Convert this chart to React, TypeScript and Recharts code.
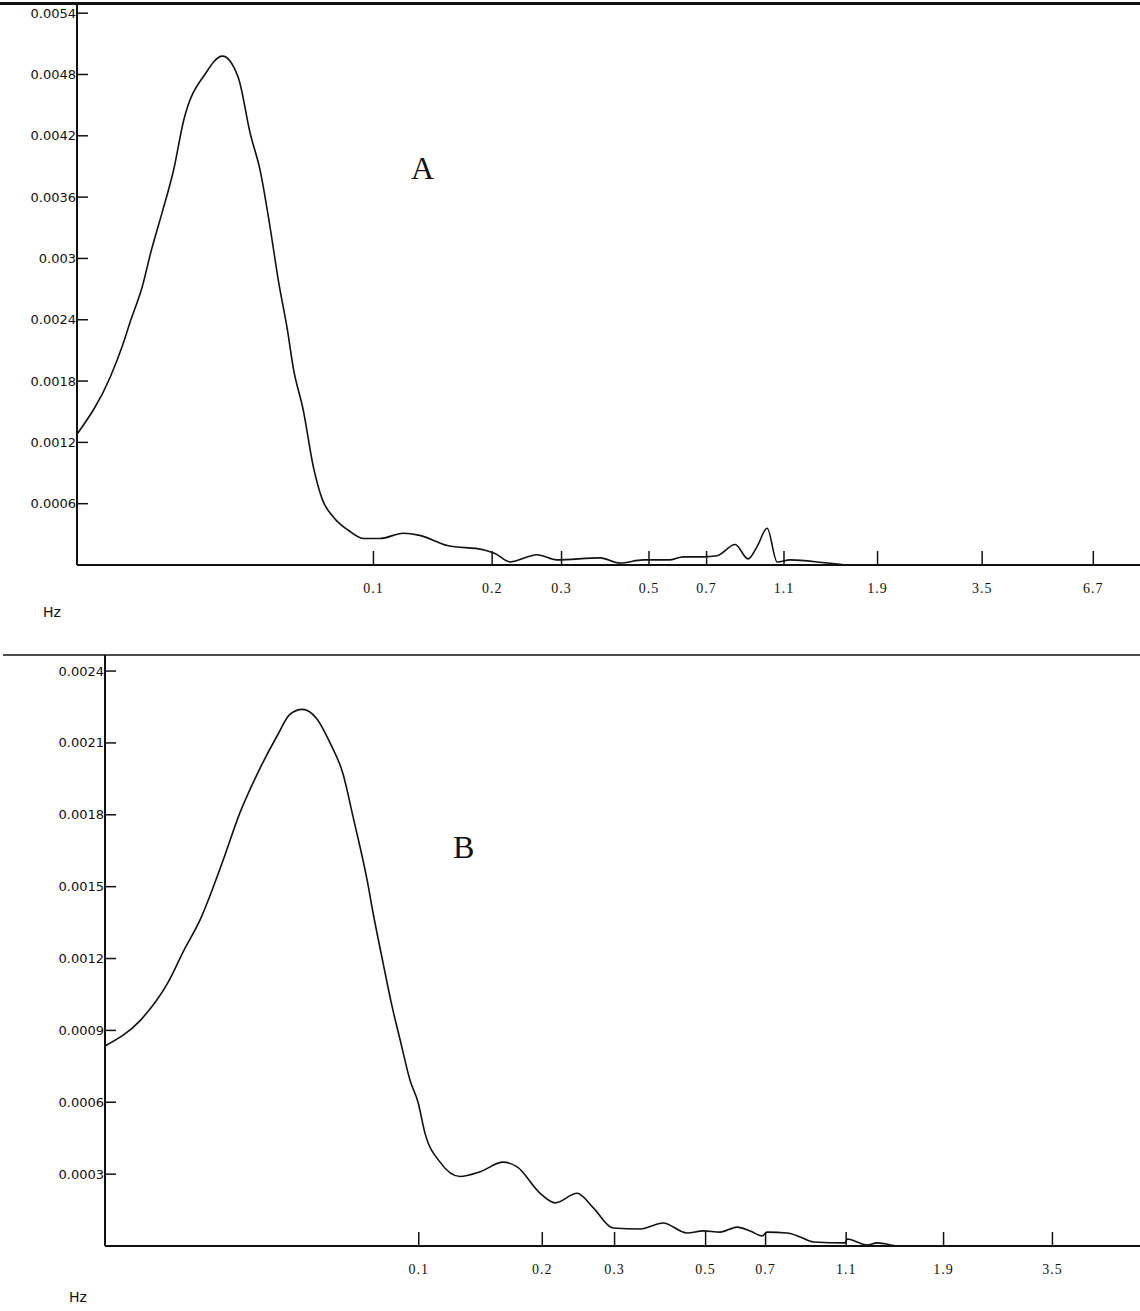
import React from 'react'
import { Line, LineChart, XAxis, YAxis } from 'recharts'

// panel A - spectrum (Hz vs power)
const freqA = [0.0177, 0.0215, 0.0231, 0.0242, 0.0259, 0.0272, 0.0292, 0.0311, 0.033, 0.0375, 0.0414, 0.0454, 0.0487, 0.0516, 0.0547, 0.0574, 0.0605, 0.0626, 0.0664, 0.0704, 0.0742, 0.0791, 0.0863, 0.0942, 0.104, 0.119, 0.131, 0.154, 0.19, 0.204, 0.222, 0.26, 0.292, 0.376, 0.422, 0.483, 0.566, 0.61, 0.686, 0.744, 0.827, 0.892, 0.94, 0.997, 1.057, 1.14, 1.415, 1.618, 1.77]
const powerA = [0.00128, 0.00184, 0.00215, 0.00239, 0.00272, 0.00305, 0.00347, 0.00386, 0.00435, 0.00481, 0.00498, 0.00477, 0.00422, 0.00386, 0.0033, 0.00278, 0.0023, 0.00193, 0.00151, 0.00096, 0.00064, 0.00047, 0.00034, 0.00026, 0.00026, 0.00031, 0.00029, 0.00019, 0.00015, 0.00011, 0.00003, 0.0001, 0.00005, 0.00007, 0.00002, 0.00005, 0.00005, 0.00008, 0.00008, 0.00009, 0.0002, 0.00006, 0.00018, 0.00036, 0.00003, 0.00005, 0.00002, 0, 0]
const yTicksA = [0.0006, 0.0012, 0.0018, 0.0024, 0.003, 0.0036, 0.0042, 0.0048, 0.0054]
const xTicksA = [0.1, 0.2, 0.3, 0.5, 0.7, 1.1, 1.9, 3.5, 6.7]

// panel B
const freqB = [0.0172, 0.021, 0.0245, 0.0267, 0.0293, 0.0332, 0.0367, 0.0404, 0.0452, 0.0486, 0.052, 0.0565, 0.0608, 0.0654, 0.0692, 0.0748, 0.0774, 0.0819, 0.0861, 0.0901, 0.0953, 0.0996, 0.1036, 0.1127, 0.1261, 0.1411, 0.1606, 0.1737, 0.1976, 0.215, 0.2431, 0.266, 0.2976, 0.3463, 0.3939, 0.4507, 0.4931, 0.5424, 0.5967, 0.6419, 0.6866, 0.706, 0.7901, 0.8495, 0.914, 1.094, 1.106, 1.237, 1.309, 1.489, 1.812]
const powerB = [0.000835, 0.000943, 0.0011, 0.00123, 0.00136, 0.0016, 0.00181, 0.00197, 0.00213, 0.00222, 0.00224, 0.0022, 0.0021, 0.00197, 0.00179, 0.00153, 0.00139, 0.00118, 0.001, 0.00086, 0.00069, 0.0006, 0.00047, 0.00035, 0.00029, 0.00031, 0.00035, 0.00033, 0.00022, 0.00018, 0.00022, 0.00016, 0.000075, 0.000071, 0.000096, 0.000054, 0.000063, 0.000058, 0.000079, 0.000063, 0.000042, 0.000058, 0.000054, 0.000038, 0.000017, 0.000013, 0.000029, 0.000004, 0.000013, 0, 0]
const yTicksB = [0.0003, 0.0006, 0.0009, 0.0012, 0.0015, 0.0018, 0.0021, 0.0024]
const xTicksB = [0.1, 0.2, 0.3, 0.5, 0.7, 1.1, 1.9, 3.5]

const dataA = freqA.map((f, i) => ({ f, p: powerA[i] }))
const dataB = freqB.map((f, i) => ({ f, p: powerB[i] }))

const ink = '#111'

const YTick = (props: any) => {
  const { x, y, payload } = props
  return (
    <g>
      <text x={x - 1} y={y} dy={4.5} textAnchor="end" fontSize={13} fontFamily="DejaVu Sans" fill={ink}>
        {String(payload.value)}
      </text>
      <line x1={x} x2={x + 11} y1={y} y2={y} stroke={ink} strokeWidth={1.5} />
    </g>
  )
}

const XTick = (props: any) => {
  const { x, y, payload } = props
  return (
    <g>
      <line x1={x} x2={x} y1={y} y2={y - 14} stroke={ink} strokeWidth={1.5} />
      <text x={x} y={y + 28} textAnchor="middle" fontSize={14} letterSpacing={1} fontFamily="Liberation Serif" fill={ink}>
        {String(payload.value)}
      </text>
    </g>
  )
}

const Spectrum = ({ data, width, height, top, yAxisWidth, xAxisHeight, xDomain, yDomain, xTicks, yTicks }: any) => (
  <LineChart width={width} height={height} data={data} margin={{ top, right: 0, bottom: 0, left: 0 }}>
    <XAxis
      dataKey="f"
      type="number"
      scale="log"
      domain={xDomain}
      allowDataOverflow
      ticks={xTicks}
      interval={0}
      height={xAxisHeight}
      tickSize={0}
      tickMargin={0}
      tickLine={false}
      axisLine={{ stroke: ink, strokeWidth: 2 }}
      tick={<XTick />}
    />
    <YAxis
      type="number"
      domain={yDomain}
      allowDataOverflow
      ticks={yTicks}
      interval={0}
      width={yAxisWidth}
      tickSize={0}
      tickMargin={0}
      tickLine={false}
      axisLine={{ stroke: ink, strokeWidth: 2 }}
      tick={<YTick />}
    />
    <Line
      dataKey="p"
      type="monotone"
      dot={false}
      stroke={ink}
      strokeWidth={1.6}
      isAnimationActive={false}
    />
  </LineChart>
)

export default function App() {
  return (
    <div style={{ position: 'relative', width: 1140, height: 1311, background: '#fff', overflow: 'hidden' }}>
      <style>{'body{margin:0;background:#fff}'}</style>
      <div style={{ position: 'absolute', left: 0, top: 0 }}>
        <Spectrum
          data={dataA}
          width={1140}
          height={625}
          top={5}
          yAxisWidth={77}
          xAxisHeight={60}
          xDomain={[0.0177, 8.8]}
          yDomain={[0, 0.00548]}
          xTicks={xTicksA}
          yTicks={yTicksA}
        />
      </div>
      <div style={{ position: 'absolute', left: 0, top: 640 }}>
        <Spectrum
          data={dataB}
          width={1140}
          height={671}
          top={15}
          yAxisWidth={105}
          xAxisHeight={65}
          xDomain={[0.0172, 5.72]}
          yDomain={[0, 0.002467]}
          xTicks={xTicksB}
          yTicks={yTicksB}
        />
      </div>
      <svg width={1140} height={1311} style={{ position: 'absolute', left: 0, top: 0, pointerEvents: 'none' }}>
        <line x1={0} x2={1140} y1={3.5} y2={3.5} stroke={ink} strokeWidth={3} />
        <line x1={3} x2={1140} y1={655} y2={655} stroke={ink} strokeWidth={1.5} />
        <text x={411} y={179} fontSize={32} fontFamily="Liberation Serif" fill={ink}>A</text>
        <text x={453} y={858} fontSize={32} fontFamily="Liberation Serif" fill={ink}>B</text>
        <text x={43} y={617} fontSize={14} fontFamily="DejaVu Sans" fill={ink}>Hz</text>
        <text x={69} y={1302} fontSize={14} fontFamily="DejaVu Sans" fill={ink}>Hz</text>
      </svg>
    </div>
  )
}
